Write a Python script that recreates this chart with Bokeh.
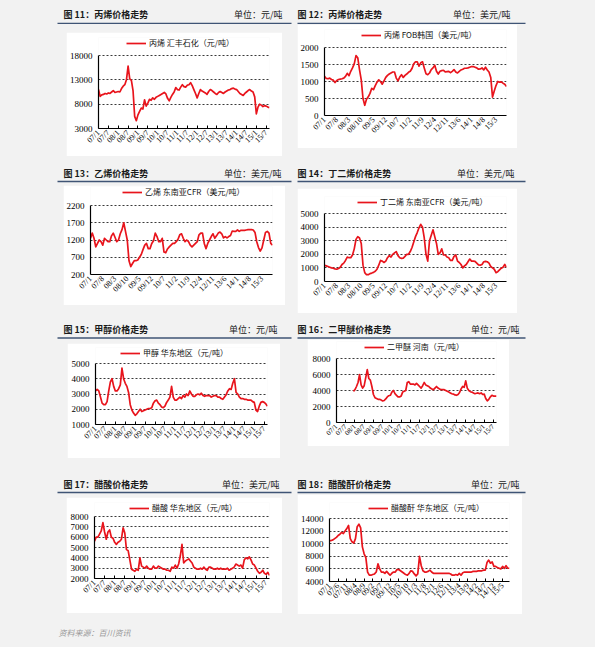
import math
from bokeh.plotting import figure
from bokeh.layouts import column, row
from bokeh.models import Range1d, FixedTicker, Legend, LegendItem, Spacer, GlobalInlineStyleSheet
from bokeh.core.properties import value
from bokeh.embed import file_html
from bokeh.resources import INLINE

# ---------------- data (monthly readings, first point = 07/1) ----------------
labels_6m = ["07/1", "07/7", "08/1", "08/7", "09/1", "09/7", "10/1", "10/7", "11/1",
             "11/7", "12/1", "12/7", "13/1", "13/7", "14/1", "14/7", "15/1", "15/7"]
labels_7m = ["07/1", "07/8", "08/3", "08/10", "09/5", "09/12", "10/7", "11/2", "11/9",
             "12/4", "12/11", "13/6", "14/1", "14/8", "15/3"]
labels_5m = ["07/1", "07/6", "07/11", "08/4", "08/9", "09/2", "09/7", "09/12", "10/5",
             "10/10", "11/3", "11/8", "12/1", "12/6", "12/11", "13/4", "13/9", "14/2",
             "14/7", "14/12", "15/5"]

propylene_hfsh = [
    11000, 9600, 9900, 10000, 10200, 10100, 10300, 10200, 10500, 10800,
    10400, 10500, 10600, 10500, 11200, 11700, 12000, 13000, 15800, 13200,
    12900, 10800, 5500, 4600, 5800, 6500, 7200, 7000, 8900, 7600,
    8200, 9000, 8800, 9300, 9000, 9400, 9600, 9800, 10000, 10200,
    10400, 10100, 9200, 8700, 9400, 10000, 10500, 11400, 11000, 10900,
    11500, 12000, 11600, 11500, 11900, 12000, 12400, 11800, 11000, 10200,
    9300, 10200, 11000, 10700, 10500, 10300, 10000, 10600, 11000, 10800,
    10500, 10200, 10000, 10400, 10600, 10400, 10200, 10500, 10700, 10900,
    11000, 11200, 11300, 11100, 11000, 10600, 10200, 10000, 9800, 10200,
    10500, 10800, 11000, 10700, 10500, 9500, 6000, 7400, 8000, 7800,
    7500, 7700, 7600, 7400, 7300]

propylene_fob = [
    1150, 1090, 1080, 1100, 1060, 1040, 970, 1030, 1060, 1070,
    1080, 1100, 1150, 1240, 1170, 1300, 1400, 1520, 1760, 1700,
    1350, 1050, 500, 300, 480, 550, 650, 800, 760, 880,
    980, 1050, 1000, 920, 1020, 1120, 1180, 1220, 1250, 1280,
    1280, 1100, 1020, 1130, 1200, 1120, 1180, 1220, 1270, 1300,
    1380, 1520, 1580, 1580, 1450, 1550, 1580, 1400, 1230, 1200,
    1250, 1350, 1400, 1480, 1300, 1220, 1300, 1320, 1330, 1280,
    1290, 1300, 1260, 1300, 1350, 1280, 1250, 1300, 1340, 1360,
    1390, 1390, 1400, 1420, 1440, 1440, 1420, 1400, 1360, 1370,
    1400, 1340, 1420, 1340, 1280, 1120, 540, 720, 880, 1000,
    980, 990, 950, 920, 850]

ethylene_cfr = [
    1250, 1400, 1250, 1000, 1100, 1200, 1150, 1050, 1250, 1200,
    1150, 1150, 1320, 1400, 1280, 1150, 1200, 1380, 1500, 1700,
    1450, 1200, 600, 430, 520, 600, 600, 620, 700, 780,
    920, 1050, 1100, 950, 950, 1100, 1180, 1400, 1300, 1150,
    1150, 1250, 850, 830, 940, 1000, 1050, 1100, 1100, 1150,
    1220, 1350, 1380, 1250, 1150, 1200, 1150, 1050, 1000, 1050,
    1100, 1150, 1350, 1400, 1400, 1100, 950, 1100, 1200, 1300,
    1380, 1250, 1320, 1400, 1430, 1380, 1260, 1300, 1260, 1300,
    1330, 1460, 1450, 1450, 1490, 1450, 1480, 1480, 1480, 1490,
    1500, 1500, 1500, 1490, 1420, 1150, 980, 880, 970, 1200,
    1420, 1450, 1400, 1100, 1050]

butadiene_cfr = [
    1200, 1150, 1100, 1050, 1000, 980, 930, 900, 960, 1050,
    1250, 1350, 1550, 1800, 1750, 1750, 1950, 2400, 3100, 3300,
    3200, 2800, 1200, 650, 500, 500, 580, 620, 670, 750,
    900, 1200, 1550, 1500, 1400, 1500, 1750, 1900, 1800, 2000,
    2100, 2200, 1900, 1750, 1700, 1720, 1850, 2000, 2000, 2200,
    2500, 2900, 3300, 3600, 3950, 4200, 4000, 3200, 2000, 1500,
    3000, 3400, 3800, 3300, 2800, 2000, 2100, 2400, 1950, 1950,
    1800, 1750, 1550, 1550, 1850, 1950, 1500, 1400, 1250, 1000,
    1150, 1250, 1450, 1650, 1500, 1500, 1480, 1350, 1220, 1200,
    1250, 1450, 1480, 1450, 1350, 1100, 1000, 900, 650, 720,
    850, 980, 1050, 1250, 1050]

methanol_ec = [
    3200, 3300, 3200, 2800, 2400, 2300, 2300, 2500, 3200, 3800,
    4000, 3500, 3200, 3200, 3350, 3600, 4700, 4000, 3700, 3500,
    3100, 2300, 1950, 1750, 1600, 1700, 1850, 2000, 1850, 1900,
    1950, 2000, 2050, 2050, 2100, 2400, 2550, 2600, 2400, 2300,
    2150, 2100, 2200, 2450, 2600, 2800, 3500, 2800, 2600, 2600,
    2700, 2800, 2700, 2900, 2800, 3000, 2900, 3200, 3000, 2850,
    2850, 2950, 3000, 2950, 3050, 2900, 2850, 2900, 2900, 2900,
    2800, 2850, 2900, 2900, 2800, 2800, 2700, 2650, 2800, 2950,
    3200, 3350, 3300, 3700, 4000, 3100, 3000, 2800, 2700, 2700,
    2650, 2650, 2600, 2600, 2600, 2500, 2450, 1950, 1850, 2200,
    2450, 2500, 2450, 2350, 2200]

dme_henan_start = "07/12"
dme_henan = [
    3900, 4100, 4500, 5000, 6000, 4700, 4300, 4600, 5600, 6600,
    5500, 5300, 4500, 3500, 3100, 3000, 2900, 2900, 2800, 2700,
    2750, 2950, 3200, 3350, 3400, 3800, 4000, 3600, 3400, 3200,
    3200, 3300, 3800, 3900, 4000, 5000, 5100, 4800, 4800, 4800,
    4700, 4900, 4700, 4500, 4300, 4600, 5000, 4700, 4600, 4500,
    4300, 4200, 4100, 4300, 4500, 4300, 4200, 4100, 4100, 4100,
    4000, 3900, 3800, 3700, 3600, 3550, 3450, 3400, 3500, 3750,
    4200, 4500, 4400, 5200, 4300, 4000, 3850, 3800, 3700, 3600,
    3650, 3700, 3600, 3700, 3500, 3550, 3000, 2700, 2900, 3200,
    3400, 3300, 3300, 3300]

acetic_acid_ec = [
    5600, 6000, 6000, 6300, 6600, 7400, 6500, 5800, 6500, 6700,
    6000, 5900, 5500, 5300, 5500, 5600, 5800, 6900, 6400, 4800,
    4700, 3800, 2900, 2800, 2700, 2900, 2800, 4000, 3200, 3100,
    3000, 3200, 3000, 2900, 2900, 3200, 3000, 3000, 3200, 3100,
    3000, 2900, 2900, 2800, 2800, 2700, 3100, 3000, 3300, 3000,
    3400, 4200, 5300, 3500, 3700, 3800, 3900, 3700, 3500, 3100,
    3000, 2900, 2900, 3000, 2900, 3100, 2900, 2800, 3100, 3100,
    3000, 2900, 2900, 3000, 2900, 3000, 2900, 2900, 2900, 3000,
    2800, 2900, 3000, 3100, 3400, 3300, 3200, 3300, 3000, 3800,
    4000, 3900, 4100, 3800, 3400, 3300, 3000, 2700, 2500, 2600,
    2800, 2500, 2400, 2600, 2300]

acetic_anhydride_ec = [
    10500, 10500, 10600, 10800, 11000, 11300, 11500, 11800, 11600, 12000,
    12400, 12900, 10800, 10300, 10100, 10800, 12700, 13100, 12500, 9500,
    8400, 7800, 5500, 5000, 5000, 5100, 5200, 5500, 6800, 6000,
    5500, 5500, 5300, 5600, 5300, 5000, 5300, 5500, 5500, 5900,
    5900, 5700, 5500, 5300, 5100, 5000, 5300, 5700, 5600, 5200,
    4900, 5200, 8000, 6500, 5700, 5500, 5500, 5600, 5800, 5500,
    5300, 5300, 5300, 5300, 5300, 5300, 5300, 5300, 5300, 5300,
    5200, 5000, 5000, 5100, 5000, 5300, 5000, 5400, 5500, 5500,
    5500, 5500, 5500, 5600, 5600, 5600, 5700, 5700, 5700, 5800,
    5800, 7000, 7400, 6900, 7100, 6400, 6400, 6200, 6100, 6000,
    6400, 6100, 6500, 6100, 6100]

titles = ["图 11：丙烯价格走势", "图 12：丙烯价格走势", "图 13：乙烯价格走势", "图 14：丁二烯价格走势",
          "图 15：甲醇价格走势", "图 16：二甲醚价格走势", "图 17：醋酸价格走势", "图 18：醋酸酐价格走势"]
units = ["单位：元/吨", "单位：美元/吨", "单位：美元/吨", "单位：美元/吨",
         "单位：元/吨", "单位：元/吨", "单位：美元/吨", "单位：元/吨"]
legends = ["丙烯 汇丰石化（元/吨）", "丙烯 FOB韩国（美元/吨）", "乙烯 东南亚CFR（美元/吨）",
           "丁二烯 东南亚CFR（美元/吨）", "甲醇 华东地区（元/吨）", "二甲醚 河南（元/吨）",
           "醋酸 华东地区（元/吨）", "醋酸酐 华东地区（元/吨）"]
source_text = "资料来源：百川资讯"

# ---------------- styling ----------------
RED = "#e8141c"
GRID = "#3a3a3a"
BG = "#f2f2f2"
CJK = "Noto Sans CJK SC"
SERIF = "Liberation Serif"
X_END = 104
PAGE_W = 595
LEG_H = 10


def month_pos(lbl):
    yy, mm = lbl.split("/")
    return (int(yy) - 7) * 12 + int(mm) - 1


def make_chart(vals, start_lbl, xlabels, yticks, legend_text, box, plot,
               leg_x, leg_cy, tick_in=True, xfont="8px"):
    x0, y0, x1, y1 = box
    px0, py0, px1, py1 = plot
    w, h = x1 - x0, y1 - y0
    ymin, ymax = yticks[0], yticks[-1]
    # frame is extended upward so that the legend sits inside it; the y axis is bounded
    ftop = max(y0, leg_cy - LEG_H / 2 - 1)
    k = (ymax - ymin) / (py1 - py0)
    y_end = ymax + k * (py0 - ftop)
    s = month_pos(start_lbl)
    xs = [s + i for i in range(len(vals))]
    p = figure(width=w, height=h, title=None, toolbar_location=None, output_backend="svg",
               x_range=Range1d(0, X_END), y_range=Range1d(ymin, y_end),
               min_border_left=px0 - x0, min_border_right=x1 - px1,
               min_border_top=int(round(ftop - y0)), min_border_bottom=y1 - py1)
    p.background_fill_color = "white"
    p.border_fill_color = "white"
    p.outline_line_color = None
    r = p.line(xs, vals, line_color=RED, line_width=1.7, line_join="round")
    p.xgrid.visible = False
    p.ygrid.ticker = FixedTicker(ticks=yticks)
    p.ygrid.grid_line_color = GRID
    p.ygrid.grid_line_dash = "2 2"
    p.ygrid.grid_line_width = 1
    p.yaxis.ticker = FixedTicker(ticks=yticks)
    p.yaxis.bounds = (ymin, ymax)
    pos = [month_pos(l) for l in xlabels]
    p.xaxis.ticker = FixedTicker(ticks=pos)
    p.xaxis.major_label_overrides = {k_: l for k_, l in zip(pos, xlabels)}
    p.xaxis.major_label_orientation = math.pi / 4
    for ax in (p.xaxis[0], p.yaxis[0]):
        ax.axis_line_color = "black"
        ax.axis_line_width = 1.2
        ax.minor_tick_line_color = None
        ax.minor_tick_in = 0
        ax.minor_tick_out = 0
        ax.major_tick_out = 0
        ax.major_label_text_font = SERIF
        ax.major_label_text_color = "black"
    p.yaxis.major_label_text_font_size = "9px"
    p.yaxis.major_tick_line_color = None
    p.yaxis.major_tick_in = 0
    p.yaxis.major_label_standoff = 6
    p.xaxis.major_label_text_font_size = xfont
    p.xaxis.major_label_standoff = 3
    if tick_in:
        p.xaxis.major_tick_in = 3
        p.xaxis.major_tick_line_color = "black"
    else:
        p.xaxis.major_tick_in = 0
        p.xaxis.major_tick_line_color = None
    # legend location = its bottom-left corner, measured from the frame's bottom-left
    leg = Legend(items=[LegendItem(label=legend_text, renderers=[r])],
                 location=(leg_x - px0, py1 - (leg_cy + LEG_H / 2)),
                 border_line_color=None, background_fill_alpha=0,
                 padding=0, margin=0, spacing=0,
                 glyph_width=20, glyph_height=LEG_H, label_height=LEG_H, label_standoff=3,
                 label_text_font=CJK, label_text_font_size="8px", label_text_color="#111111")
    p.add_layout(leg)
    return p


def band_fig(top, bottom):
    p = figure(width=PAGE_W, height=bottom - top, title=None, toolbar_location=None,
               output_backend="svg", x_axis_type=None, y_axis_type=None,
               x_range=Range1d(0, PAGE_W), y_range=Range1d(bottom, top), min_border=0)
    p.background_fill_color = BG
    p.border_fill_color = BG
    p.outline_line_color = None
    return p


def header(top, bottom, ty, ly, iL, iR, uL_end, uR_end):
    p = band_fig(top, bottom)
    p.text(x=[63, 297], y=[ty, ty], text=[titles[iL], titles[iR]], text_font=value(CJK),
           text_font_size=value("9px"), text_font_style="bold", text_color="#1a1a1a",
           text_align="left", text_baseline="middle")
    p.text(x=[uL_end, uR_end], y=[ty, ty], text=[units[iL], units[iR]], text_font=value(CJK),
           text_font_size=value("9px"), text_color="#1a1a1a",
           text_align="right", text_baseline="middle")
    p.segment(x0=[57, 297], y0=[ly, ly], x1=[291, 525], y1=[ly, ly],
              line_color="#3f5475", line_width=1.6)
    return p


def vbox(top, fig, bottom):
    items = []
    if top:
        items.append(Spacer(width=fig.width, height=top))
    items.append(fig)
    if bottom:
        items.append(Spacer(width=fig.width, height=bottom))
    return column(*items, spacing=0)


# ---------------- charts (page pixel boxes) ----------------
p1 = make_chart(propylene_hfsh, "07/1", labels_6m, [3000, 8000, 13000, 18000], legends[0],
                (66, 32, 282, 156), (96, 55, 269, 128), 124, 43)
p2 = make_chart(propylene_fob, "07/1", labels_7m, [0, 500, 1000, 1500, 2000], legends[1],
                (297, 24, 517, 148), (324, 47, 506, 115), 361, 35, tick_in=False)
p3 = make_chart(ethylene_cfr, "07/1", labels_7m, [200, 700, 1200, 1700, 2200], legends[2],
                (63, 185, 285, 305), (89, 205, 272, 274), 121, 192, tick_in=False)
p4 = make_chart(butadiene_cfr, "07/1", labels_7m, [0, 1000, 2000, 3000, 4000, 5000], legends[3],
                (297, 188, 517, 313), (324, 213, 506, 281), 357, 202, tick_in=False)
p5 = make_chart(methanol_ec, "07/1", labels_6m, [1000, 2000, 3000, 4000, 5000], legends[4],
                (67, 343, 280, 458), (95, 363, 267, 424), 120, 353)
p6 = make_chart(dme_henan, dme_henan_start, labels_6m, [0, 2000, 4000, 6000, 8000], legends[5],
                (307, 339, 509, 446), (336, 358, 496, 422), 364, 347, xfont="7px")
p7 = make_chart(acetic_acid_ec, "07/1", labels_6m, [2000, 3000, 4000, 5000, 6000, 7000, 8000],
                legends[6], (66, 497, 282, 613), (94, 516, 269, 578), 129, 508)
p8 = make_chart(acetic_anhydride_ec, "07/1", labels_5m, [4000, 6000, 8000, 10000, 12000, 14000],
                legends[7], (297, 494, 522, 614), (328, 518, 509, 581), 367, 508)

h1 = header(0, 24, 14, 23, 0, 1, 282, 510)
h2 = header(156, 185, 173, 181, 2, 3, 281, 514)
h3 = header(313, 339, 329, 337.5, 4, 5, 277, 519)
h4 = header(458, 494, 484, 492, 6, 7, 279, 519)

foot = band_fig(614, 647)
foot.text(x=[58], y=[632], text=[source_text], text_font=value(CJK), text_font_size=value("8px"),
          text_font_style="italic", text_color="#9a9a9a", text_align="left", text_baseline="middle")

r1 = row(Spacer(width=66, height=1), vbox(8, p1, 0), Spacer(width=15, height=1), vbox(0, p2, 8),
         spacing=0)
r2 = row(Spacer(width=63, height=1), vbox(0, p3, 8), Spacer(width=12, height=1), vbox(3, p4, 0),
         spacing=0)
r3 = row(Spacer(width=67, height=1), vbox(4, p5, 0), Spacer(width=27, height=1), vbox(0, p6, 12),
         spacing=0)
r4 = row(Spacer(width=66, height=1), vbox(3, p7, 1), Spacer(width=15, height=1), vbox(0, p8, 0),
         spacing=0)

root = column(h1, r1, h2, r2, h3, r3, h4, r4, foot, spacing=0,
              styles={"background-color": BG})
root.stylesheets = [GlobalInlineStyleSheet(css="html, body { background-color: #f2f2f2; }")]

open("out.html", "w").write(file_html(root, INLINE))
